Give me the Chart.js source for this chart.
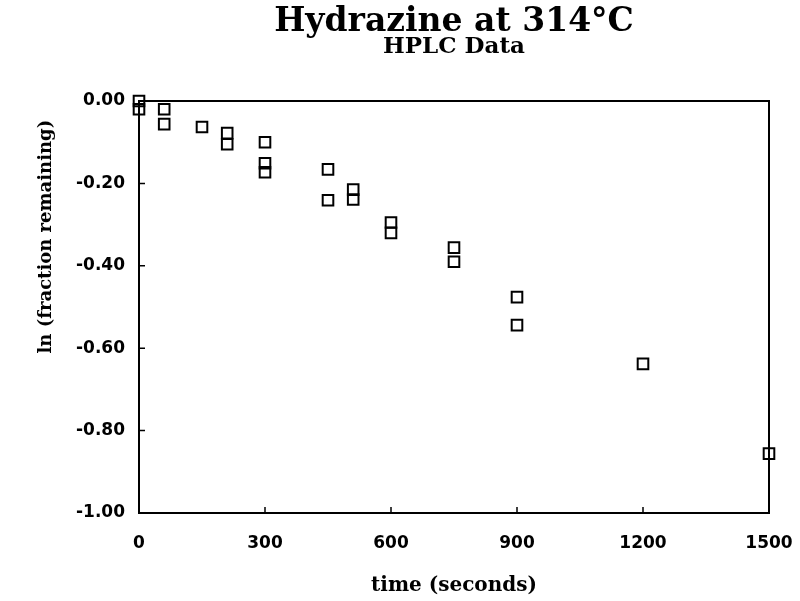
<!DOCTYPE html>
<html>
<head>
<meta charset="utf-8">
<script src="https://cdn.jsdelivr.net/npm/chart.js@4.4.1/dist/chart.umd.min.js"></script>
<style>
    body { margin: 0; background: white; }
</style>
</head>
<body>
<canvas id="hplcChart" width="800" height="601"></canvas>
<script>
// sample times (s) and ln(fraction remaining)
const times = [0, 0, 60, 60, 150, 210, 210, 300, 300, 300, 450, 450, 510, 510, 600, 600, 750, 750, 900, 900, 1200, 1500];
const lnFraction = [0, -0.02, -0.02, -0.056, -0.063, -0.078, -0.105, -0.10, -0.151, -0.173, -0.166, -0.241, -0.215, -0.239, -0.295, -0.32, -0.356, -0.39, -0.476, -0.544, -0.638, -0.856];

const xTicks = [0, 300, 600, 900, 1200, 1500];
const yTicks = [0, -0.2, -0.4, -0.6, -0.8, -1.0];

const points = times.map((t, i) => ({ x: t, y: lnFraction[i] }));

const serif = "'DejaVu Serif', serif";

// frame round the plot plus small inward tick marks
const framePlugin = {
    id: "frame",
    afterDatasetsDraw(chart) {
        const ctx = chart.ctx;
        const a = chart.chartArea;
        const xs = chart.scales.x;
        const ys = chart.scales.y;
        ctx.save();
        ctx.strokeStyle = "#000";
        ctx.lineWidth = 2;
        ctx.strokeRect(a.left, a.top, a.right - a.left, a.bottom - a.top);
        ctx.lineWidth = 1.5;
        ctx.beginPath();
        xTicks.slice(1, -1).forEach(v => {
            const px = xs.getPixelForValue(v);
            ctx.moveTo(px, a.bottom);
            ctx.lineTo(px, a.bottom - 6);
        });
        yTicks.slice(1, -1).forEach(v => {
            const py = ys.getPixelForValue(v);
            ctx.moveTo(a.left, py);
            ctx.lineTo(a.left + 6, py);
        });
        ctx.stroke();
        ctx.restore();
    }
};

const ctx = document.getElementById("hplcChart").getContext("2d");

new Chart(ctx, {
    type: "scatter",
    data: {
        datasets: [{
            data: points,
            pointStyle: "rect",
            pointRadius: 7.5,
            pointBorderWidth: 2,
            borderColor: "#000",
            backgroundColor: "transparent",
            clip: false
        }]
    },
    options: {
        responsive: false,
        animation: false,
        layout: { padding: { left: 0, right: 31, top: 0, bottom: 0 } },
        plugins: {
            legend: { display: false },
            tooltip: { enabled: false },
            title: {
                display: true,
                fullSize: false,
                text: "Hydrazine at 314°C",
                color: "#000",
                font: { family: serif, size: 33, weight: "bold", lineHeight: 0.85 },
                padding: { top: 8, bottom: 0 }
            },
            subtitle: {
                display: true,
                fullSize: false,
                text: "HPLC Data",
                color: "#000",
                font: { family: serif, size: 23, weight: "bold", lineHeight: 0.85 },
                padding: { top: 1.2, bottom: 44.2 }
            }
        },
        scales: {
            x: {
                type: "linear",
                min: 0,
                max: 1500,
                afterFit: s => {
                    s.height = 88;
                    s.paddingLeft = 0;
                    s.paddingRight = 0;
                },
                afterBuildTicks: s => { s.ticks = xTicks.map(v => ({ value: v })); },
                grid: { display: false, drawTicks: false },
                border: { display: false },
                ticks: {
                    color: "#000",
                    padding: 20,
                    maxRotation: 0,
                    font: { family: "DejaVu Sans", size: 17, weight: "bold" },
                    callback: v => String(v)
                },
                title: {
                    display: true,
                    text: "time (seconds)",
                    color: "#000",
                    font: { family: serif, size: 20, weight: "bold" },
                    padding: { top: 0, bottom: 3 }
                }
            },
            y: {
                type: "linear",
                min: -1,
                max: 0,
                afterFit: s => { s.width = 139; },
                afterBuildTicks: s => { s.ticks = yTicks.map(v => ({ value: v })); },
                grid: { display: false, drawTicks: false },
                border: { display: false },
                ticks: {
                    color: "#000",
                    padding: 14,
                    font: { family: "DejaVu Sans", size: 17, weight: "bold" },
                    callback: v => v.toFixed(2)
                },
                title: {
                    display: true,
                    align: "end",
                    text: "ln (fraction remaining)   ",
                    color: "#000",
                    font: { family: serif, size: 18, weight: "bold" },
                    padding: { top: 36, bottom: 0 }
                }
            }
        }
    },
    plugins: [framePlugin]
});
</script>
</body>
</html>
